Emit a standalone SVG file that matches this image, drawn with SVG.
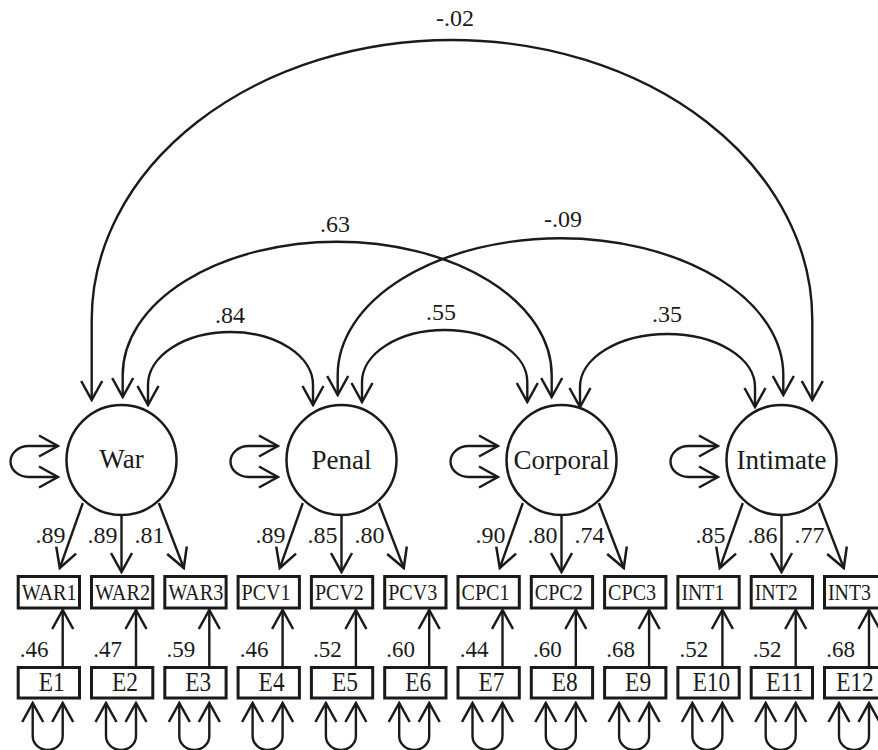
<svg xmlns="http://www.w3.org/2000/svg" width="878" height="750" viewBox="0 0 878 750">
<defs>
<marker id="ah" viewBox="-22 -12 24 24" refX="0" refY="0" markerWidth="24" markerHeight="24" markerUnits="userSpaceOnUse" orient="auto-start-reverse">
<path d="M-19,-10.5 L0,0 L-19,10.5" fill="none" stroke="#1a1a1a" stroke-width="2.5"/>
</marker>
</defs>
<style>
text{font-family:"Liberation Serif","Times New Roman",serif;fill:#1a1a1a}
.lat{fill:#fff;stroke:#1a1a1a;stroke-width:2.5}
.box{fill:#fff;stroke:#1a1a1a;stroke-width:3}
.c{fill:none;stroke:#1a1a1a;stroke-width:2.4}
.a{marker-end:url(#ah)}
.b{marker-start:url(#ah);marker-end:url(#ah)}
.n{font-size:27px;text-anchor:middle}
.v{font-size:24px;text-anchor:middle}
.ind{font-size:23px}
.e{font-size:27px;text-anchor:middle}
.ev{font-size:23px;text-anchor:middle}
</style>
<rect width="878" height="750" fill="#fff"/>
<g id="connectors">
<path class="c b" d="M91.7,400 L91.7,320 A360.3 280 0 0 1 812.3,320 L812.3,400"/>
<path class="c b" d="M122.7,397 L122.7,375 A214.5 133.3 0 0 1 551.7,375 L551.7,397"/>
<path class="c b" d="M337.7,395 L337.7,375 A222.8 136.7 0 0 1 783.3,375 L783.3,395"/>
<path class="c b" d="M148,405 L148,385 A82.5 53 0 0 1 313,385 L313,405"/>
<path class="c b" d="M362,402 L362,382 A82.65 52 0 0 1 527.3,382 L527.3,402"/>
<path class="c b" d="M580,407 L580,387 A87.5 53 0 0 1 755,387 L755,407"/>
<path class="c b" d="M58,446 L28.5,446 A18 15.5 0 0 0 28.5,477 L58,477"/>
<path class="c b" d="M278,446 L248.5,446 A18 15.5 0 0 0 248.5,477 L278,477"/>
<path class="c b" d="M498,446 L468.5,446 A18 15.5 0 0 0 468.5,477 L498,477"/>
<path class="c b" d="M718,446 L688.5,446 A18 15.5 0 0 0 688.5,477 L718,477"/>
<path class="c a" d="M82.8,503 L59.8,568"/>
<path class="c a" d="M121.5,515 L121.5,572"/>
<path class="c a" d="M158.8,503 L183.8,568"/>
<path class="c a" d="M302.8,503 L279.8,568"/>
<path class="c a" d="M341.5,515 L341.5,572"/>
<path class="c a" d="M378.8,503 L403.8,568"/>
<path class="c a" d="M522.8,503 L499.8,568"/>
<path class="c a" d="M561.5,515 L561.5,572"/>
<path class="c a" d="M598.8,503 L623.8,568"/>
<path class="c a" d="M742.8,503 L719.8,568"/>
<path class="c a" d="M781.5,515 L781.5,572"/>
<path class="c a" d="M818.8,503 L843.8,568"/>
<path class="c a" d="M62.7,666 L62.7,610"/>
<path class="c a" d="M136,666 L136,610"/>
<path class="c a" d="M209.3,666 L209.3,610"/>
<path class="c a" d="M282.6,666 L282.6,610"/>
<path class="c a" d="M355.9,666 L355.9,610"/>
<path class="c a" d="M429.2,666 L429.2,610"/>
<path class="c a" d="M502.5,666 L502.5,610"/>
<path class="c a" d="M575.8,666 L575.8,610"/>
<path class="c a" d="M649.1,666 L649.1,610"/>
<path class="c a" d="M722.4,666 L722.4,610"/>
<path class="c a" d="M795.7,666 L795.7,610"/>
<path class="c a" d="M869,666 L869,610"/>
<path class="c b" d="M32.7,703 L32.7,736 A15 14 0 0 0 62.7,736 L62.7,703"/>
<path class="c b" d="M106,703 L106,736 A15 14 0 0 0 136,736 L136,703"/>
<path class="c b" d="M179.3,703 L179.3,736 A15 14 0 0 0 209.3,736 L209.3,703"/>
<path class="c b" d="M252.6,703 L252.6,736 A15 14 0 0 0 282.6,736 L282.6,703"/>
<path class="c b" d="M325.9,703 L325.9,736 A15 14 0 0 0 355.9,736 L355.9,703"/>
<path class="c b" d="M399.2,703 L399.2,736 A15 14 0 0 0 429.2,736 L429.2,703"/>
<path class="c b" d="M472.5,703 L472.5,736 A15 14 0 0 0 502.5,736 L502.5,703"/>
<path class="c b" d="M545.8,703 L545.8,736 A15 14 0 0 0 575.8,736 L575.8,703"/>
<path class="c b" d="M619.1,703 L619.1,736 A15 14 0 0 0 649.1,736 L649.1,703"/>
<path class="c b" d="M692.4,703 L692.4,736 A15 14 0 0 0 722.4,736 L722.4,703"/>
<path class="c b" d="M765.7,703 L765.7,736 A15 14 0 0 0 795.7,736 L795.7,703"/>
<path class="c b" d="M839,703 L839,736 A15 14 0 0 0 869,736 L869,703"/>
</g>
<g id="connector-labels">
<text class="v" x="455" y="26">-.02</text>
<text class="v" x="335" y="232">.63</text>
<text class="v" x="563" y="227">-.09</text>
<text class="v" x="230" y="323">.84</text>
<text class="v" x="441" y="320">.55</text>
<text class="v" x="667" y="322">.35</text>
<text class="v" x="50.5" y="543">.89</text>
<text class="v" x="102.5" y="543">.89</text>
<text class="v" x="149.5" y="543">.81</text>
<text class="v" x="270.5" y="543">.89</text>
<text class="v" x="322.5" y="543">.85</text>
<text class="v" x="369.5" y="543">.80</text>
<text class="v" x="490.5" y="543">.90</text>
<text class="v" x="542.5" y="543">.80</text>
<text class="v" x="589.5" y="543">.74</text>
<text class="v" x="710.5" y="543">.85</text>
<text class="v" x="762.5" y="543">.86</text>
<text class="v" x="809.5" y="543">.77</text>
<text class="ev" x="34.2" y="657">.46</text>
<text class="ev" x="107.5" y="657">.47</text>
<text class="ev" x="180.8" y="657">.59</text>
<text class="ev" x="254.1" y="657">.46</text>
<text class="ev" x="327.4" y="657">.52</text>
<text class="ev" x="400.7" y="657">.60</text>
<text class="ev" x="474" y="657">.44</text>
<text class="ev" x="547.3" y="657">.60</text>
<text class="ev" x="620.6" y="657">.68</text>
<text class="ev" x="693.9" y="657">.52</text>
<text class="ev" x="767.2" y="657">.52</text>
<text class="ev" x="840.5" y="657">.68</text>
</g>
<g id="War"><circle class="lat" cx="121.5" cy="460" r="55"/><text class="n" x="121.5" y="468">War</text></g>
<g id="Penal"><circle class="lat" cx="341.5" cy="460" r="55"/><text class="n" x="341.5" y="469">Penal</text></g>
<g id="Corporal"><circle class="lat" cx="561.5" cy="460" r="55"/><text class="n" x="561.5" y="469">Corporal</text></g>
<g id="Intimate"><circle class="lat" cx="781.5" cy="460" r="55"/><text class="n" x="781.5" y="469">Intimate</text></g>
<g id="WAR1"><rect class="box" x="18.2" y="576.5" width="61.3" height="31.5"/><text class="ind" x="21.7" y="600" textLength="55" lengthAdjust="spacingAndGlyphs">WAR1</text></g>
<g id="WAR2"><rect class="box" x="91.5" y="576.5" width="61.3" height="31.5"/><text class="ind" x="95" y="600" textLength="55" lengthAdjust="spacingAndGlyphs">WAR2</text></g>
<g id="WAR3"><rect class="box" x="164.8" y="576.5" width="61.3" height="31.5"/><text class="ind" x="168.3" y="600" textLength="55" lengthAdjust="spacingAndGlyphs">WAR3</text></g>
<g id="PCV1"><rect class="box" x="238.1" y="576.5" width="61.3" height="31.5"/><text class="ind" x="241.6" y="600" textLength="49" lengthAdjust="spacingAndGlyphs">PCV1</text></g>
<g id="PCV2"><rect class="box" x="311.4" y="576.5" width="61.3" height="31.5"/><text class="ind" x="314.9" y="600" textLength="49" lengthAdjust="spacingAndGlyphs">PCV2</text></g>
<g id="PCV3"><rect class="box" x="384.7" y="576.5" width="61.3" height="31.5"/><text class="ind" x="388.2" y="600" textLength="49" lengthAdjust="spacingAndGlyphs">PCV3</text></g>
<g id="CPC1"><rect class="box" x="458" y="576.5" width="61.3" height="31.5"/><text class="ind" x="461.5" y="600" textLength="48" lengthAdjust="spacingAndGlyphs">CPC1</text></g>
<g id="CPC2"><rect class="box" x="531.3" y="576.5" width="61.3" height="31.5"/><text class="ind" x="534.8" y="600" textLength="48" lengthAdjust="spacingAndGlyphs">CPC2</text></g>
<g id="CPC3"><rect class="box" x="604.6" y="576.5" width="61.3" height="31.5"/><text class="ind" x="608.1" y="600" textLength="48" lengthAdjust="spacingAndGlyphs">CPC3</text></g>
<g id="INT1"><rect class="box" x="677.9" y="576.5" width="61.3" height="31.5"/><text class="ind" x="681.4" y="600" textLength="43" lengthAdjust="spacingAndGlyphs">INT1</text></g>
<g id="INT2"><rect class="box" x="751.2" y="576.5" width="61.3" height="31.5"/><text class="ind" x="754.7" y="600" textLength="43" lengthAdjust="spacingAndGlyphs">INT2</text></g>
<g id="INT3"><rect class="box" x="824.5" y="576.5" width="61.3" height="31.5"/><text class="ind" x="828" y="600" textLength="43" lengthAdjust="spacingAndGlyphs">INT3</text></g>
<g id="E1"><rect class="box" x="18.2" y="667.5" width="61.3" height="30.5"/><text class="e" x="51.7" y="691" textLength="26" lengthAdjust="spacingAndGlyphs">E1</text></g>
<g id="E2"><rect class="box" x="91.5" y="667.5" width="61.3" height="30.5"/><text class="e" x="125" y="691" textLength="26" lengthAdjust="spacingAndGlyphs">E2</text></g>
<g id="E3"><rect class="box" x="164.8" y="667.5" width="61.3" height="30.5"/><text class="e" x="198.3" y="691" textLength="26" lengthAdjust="spacingAndGlyphs">E3</text></g>
<g id="E4"><rect class="box" x="238.1" y="667.5" width="61.3" height="30.5"/><text class="e" x="271.6" y="691" textLength="26" lengthAdjust="spacingAndGlyphs">E4</text></g>
<g id="E5"><rect class="box" x="311.4" y="667.5" width="61.3" height="30.5"/><text class="e" x="344.9" y="691" textLength="26" lengthAdjust="spacingAndGlyphs">E5</text></g>
<g id="E6"><rect class="box" x="384.7" y="667.5" width="61.3" height="30.5"/><text class="e" x="418.2" y="691" textLength="26" lengthAdjust="spacingAndGlyphs">E6</text></g>
<g id="E7"><rect class="box" x="458" y="667.5" width="61.3" height="30.5"/><text class="e" x="491.5" y="691" textLength="26" lengthAdjust="spacingAndGlyphs">E7</text></g>
<g id="E8"><rect class="box" x="531.3" y="667.5" width="61.3" height="30.5"/><text class="e" x="564.8" y="691" textLength="26" lengthAdjust="spacingAndGlyphs">E8</text></g>
<g id="E9"><rect class="box" x="604.6" y="667.5" width="61.3" height="30.5"/><text class="e" x="638.1" y="691" textLength="26" lengthAdjust="spacingAndGlyphs">E9</text></g>
<g id="E10"><rect class="box" x="677.9" y="667.5" width="61.3" height="30.5"/><text class="e" x="711.4" y="691" textLength="37.5" lengthAdjust="spacingAndGlyphs">E10</text></g>
<g id="E11"><rect class="box" x="751.2" y="667.5" width="61.3" height="30.5"/><text class="e" x="784.7" y="691" textLength="37.5" lengthAdjust="spacingAndGlyphs">E11</text></g>
<g id="E12"><rect class="box" x="824.5" y="667.5" width="61.3" height="30.5"/><text class="e" x="855" y="691" textLength="37.5" lengthAdjust="spacingAndGlyphs">E12</text></g>
</svg>
